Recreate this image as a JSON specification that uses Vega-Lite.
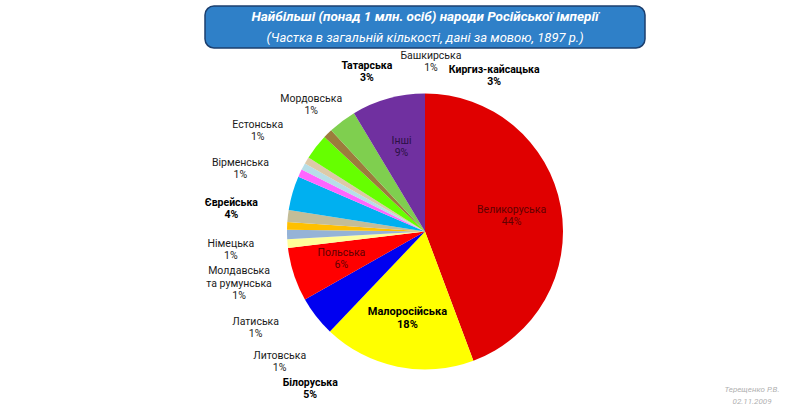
{
  "$schema": "https://vega.github.io/schema/vega-lite/v6.json",
  "background": "white",
  "padding": {"left": 50, "top": 5, "right": 0, "bottom": 0},
  "datasets": {
    "nations": [
      {"order": 1, "name": "Великоруська", "share": 0.443},
      {"order": 2, "name": "Малоросійська", "share": 0.178},
      {"order": 3, "name": "Білоруська", "share": 0.047},
      {"order": 4, "name": "Польська", "share": 0.063},
      {"order": 5, "name": "Литовська", "share": 0.010},
      {"order": 6, "name": "Латиська", "share": 0.011},
      {"order": 7, "name": "Молдавська\nта румунська", "share": 0.009},
      {"order": 8, "name": "Німецька", "share": 0.014},
      {"order": 9, "name": "Єврейська", "share": 0.040},
      {"order": 10, "name": "Вірменська", "share": 0.009},
      {"order": 11, "name": "Естонська", "share": 0.008},
      {"order": 12, "name": "Мордовська", "share": 0.008},
      {"order": 13, "name": "Татарська", "share": 0.030},
      {"order": 14, "name": "Башкирська", "share": 0.011},
      {"order": 15, "name": "Киргиз-кайсацька", "share": 0.033},
      {"order": 16, "name": "Інші", "share": 0.086}
    ]
  },
  "vconcat": [
    {
      "width": 440,
      "height": 42,
      "view": {"fill": "#2f80c8", "stroke": "#1c3f6e", "strokeWidth": 1.5, "cornerRadius": 9},
      "data": {"values": [
        {"k": 1, "line": "Найбільші  (понад 1 млн. осіб) народи Російської імперії"},
        {"k": 2, "line": "(Частка в загальній кількості, дані за мовою, 1897 р.)"}
      ]},
      "encoding": {
        "y": {"field": "k", "type": "ordinal", "axis": null, "scale": {"paddingOuter": 0.25}},
        "text": {"field": "line"}
      },
      "layer": [
        {"transform": [{"filter": "datum.k === 1"}],
         "mark": {"type": "text", "font": "Roboto", "fontSize": 13.5, "fontStyle": "italic", "fontWeight": "bold", "color": "white"}},
        {"transform": [{"filter": "datum.k === 2"}],
         "mark": {"type": "text", "font": "Roboto", "fontSize": 13, "fontStyle": "italic", "color": "white"}}
      ]
    },
    {
      "width": 750,
      "height": 367,
      "view": {"stroke": null},
      "data": {"name": "nations"},
      "layer": [
        {
          "mark": {"type": "arc", "radius": 138},
          "encoding": {
            "theta": {"field": "share", "type": "quantitative", "stack": true},
            "order": {"field": "order", "type": "quantitative"},
            "color": {
              "field": "name", "type": "nominal", "legend": null,
              "scale": {
                "domain": ["Великоруська", "Малоросійська", "Білоруська", "Польська", "Литовська", "Латиська", "Молдавська\nта румунська", "Німецька", "Єврейська", "Вірменська", "Естонська", "Мордовська", "Татарська", "Башкирська", "Киргиз-кайсацька", "Інші"],
                "range": ["#e00000", "#ffff00", "#0000f0", "#ff0000", "#ffff99", "#95b3d7", "#ffc000", "#c4bd97", "#00b0f0", "#ff66ff", "#b7dee8", "#ddc9a8", "#66ff00", "#9c7c3c", "#7fcf4f", "#7030a0"]
              }
            }
          }
        },
        {
          "encoding": {
            "theta": {"field": "share", "type": "quantitative", "stack": true},
            "order": {"field": "order", "type": "quantitative"}
          },
          "layer": [
            {"mark": {"type": "text", "radius": 88, "baseline": "bottom", "dy": -1, "font": "Roboto", "fontSize": 10.5},
             "encoding": {
               "text": {"field": "name"},
               "color": {"condition": {"test": "datum.order === 16", "value": "#2b1045"}, "value": "#600000"},
               "opacity": {"condition": {"test": "datum.order === 1 || datum.order === 4 || datum.order === 16", "value": 1}, "value": 0}
             }},
            {"mark": {"type": "text", "radius": 88, "baseline": "top", "dy": 1, "font": "Roboto", "fontSize": 10.5},
             "encoding": {
               "text": {"field": "share", "type": "quantitative", "format": ".0%"},
               "color": {"condition": {"test": "datum.order === 16", "value": "#2b1045"}, "value": "#600000"},
               "opacity": {"condition": {"test": "datum.order === 1 || datum.order === 4 || datum.order === 16", "value": 1}, "value": 0}
             }},
            {"mark": {"type": "text", "radius": 88, "baseline": "bottom", "dy": -1, "font": "Roboto", "fontSize": 11, "fontWeight": "bold", "color": "black"},
             "encoding": {
               "text": {"field": "name"},
               "opacity": {"condition": {"test": "datum.order === 2", "value": 1}, "value": 0}
             }},
            {"mark": {"type": "text", "radius": 88, "baseline": "top", "dy": 1, "font": "Roboto", "fontSize": 11, "fontWeight": "bold", "color": "black"},
             "encoding": {
               "text": {"field": "share", "type": "quantitative", "format": ".0%"},
               "opacity": {"condition": {"test": "datum.order === 2", "value": 1}, "value": 0}
             }}
          ]
        },
        {
          "transform": [{"filter": "datum.order === 3 || (datum.order >= 5 && datum.order <= 11)"}],
          "encoding": {
            "theta": {"aggregate": "count", "type": "quantitative", "stack": true, "scale": {"range": [3.6652, 5.3582]}},
            "order": {"field": "order", "type": "quantitative"},
            "detail": {"field": "name", "type": "nominal"}
          },
          "layer": [
            {"mark": {"type": "text", "radius": 195, "baseline": "bottom", "dy": -1, "font": "Roboto", "fontSize": 10.5, "color": "#1a1a1a"},
             "encoding": {
               "text": {"field": "name"},
               "opacity": {"condition": {"test": "datum.order === 3 || datum.order === 9 || datum.order === 7", "value": 0}, "value": 1}
             }},
            {"mark": {"type": "text", "radius": 195, "baseline": "bottom", "dy": -14, "lineBreak": "\n", "lineHeight": 13, "font": "Roboto", "fontSize": 10.5, "color": "#1a1a1a"},
             "encoding": {
               "text": {"field": "name"},
               "opacity": {"condition": {"test": "datum.order === 7", "value": 1}, "value": 0}
             }},
            {"mark": {"type": "text", "radius": 195, "baseline": "top", "dy": 1, "font": "Roboto", "fontSize": 10.5, "color": "#1a1a1a"},
             "encoding": {
               "text": {"field": "share", "type": "quantitative", "format": ".0%"},
               "opacity": {"condition": {"test": "datum.order === 3 || datum.order === 9", "value": 0}, "value": 1}
             }},
            {"mark": {"type": "text", "radius": 195, "baseline": "bottom", "dy": -1, "font": "Roboto", "fontSize": 10.5, "fontWeight": "bold", "color": "black"},
             "encoding": {
               "text": {"field": "name"},
               "opacity": {"condition": {"test": "datum.order === 3 || datum.order === 9", "value": 1}, "value": 0}
             }},
            {"mark": {"type": "text", "radius": 195, "baseline": "top", "dy": 1, "font": "Roboto", "fontSize": 10.5, "fontWeight": "bold", "color": "black"},
             "encoding": {
               "text": {"field": "share", "type": "quantitative", "format": ".0%"},
               "opacity": {"condition": {"test": "datum.order === 3 || datum.order === 9", "value": 1}, "value": 0}
             }}
          ]
        },
        {
          "transform": [{"filter": "datum.order >= 12 && datum.order <= 15"}],
          "encoding": {
            "theta": {"aggregate": "count", "type": "quantitative", "stack": true, "scale": {"range": [5.3582, 6.894]}},
            "order": {"field": "order", "type": "quantitative"},
            "detail": {"field": "name", "type": "nominal"}
          },
          "layer": [
            {"mark": {"type": "text", "radius": 170, "baseline": "bottom", "dy": -1, "font": "Roboto", "fontSize": 10.5, "color": "#1a1a1a"},
             "encoding": {
               "text": {"field": "name"},
               "opacity": {"condition": {"test": "datum.order === 13 || datum.order === 15", "value": 0}, "value": 1}
             }},
            {"mark": {"type": "text", "radius": 170, "baseline": "top", "dy": 1, "font": "Roboto", "fontSize": 10.5, "color": "#1a1a1a"},
             "encoding": {
               "text": {"field": "share", "type": "quantitative", "format": ".0%"},
               "opacity": {"condition": {"test": "datum.order === 13 || datum.order === 15", "value": 0}, "value": 1}
             }},
            {"mark": {"type": "text", "radius": 170, "baseline": "bottom", "dy": -1, "font": "Roboto", "fontSize": 10.5, "fontWeight": "bold", "color": "black"},
             "encoding": {
               "text": {"field": "name"},
               "opacity": {"condition": {"test": "datum.order === 13 || datum.order === 15", "value": 1}, "value": 0}
             }},
            {"mark": {"type": "text", "radius": 170, "baseline": "top", "dy": 1, "font": "Roboto", "fontSize": 10.5, "fontWeight": "bold", "color": "black"},
             "encoding": {
               "text": {"field": "share", "type": "quantitative", "format": ".0%"},
               "opacity": {"condition": {"test": "datum.order === 13 || datum.order === 15", "value": 1}, "value": 0}
             }}
          ]
        },
        {
          "data": {"values": [{"author": "Терещенко Р.В.", "date": "02.11.2009"}]},
          "layer": [
            {"mark": {"type": "text", "align": "center", "baseline": "middle", "dx": -48, "dy": -25, "font": "Roboto", "fontSize": 8, "fontStyle": "italic", "color": "#b0b0b0"},
             "encoding": {"x": {"value": "width"}, "y": {"value": "height"}, "text": {"field": "author"}}},
            {"mark": {"type": "text", "align": "center", "baseline": "middle", "dx": -48, "dy": -13, "font": "Roboto", "fontSize": 8, "fontStyle": "italic", "color": "#b0b0b0"},
             "encoding": {"x": {"value": "width"}, "y": {"value": "height"}, "text": {"field": "date"}}}
          ]
        }
      ],
      "resolve": {"scale": {"theta": "independent"}}
    }
  ],
  "spacing": 0,
  "bounds": "flush",
  "center": true
}
